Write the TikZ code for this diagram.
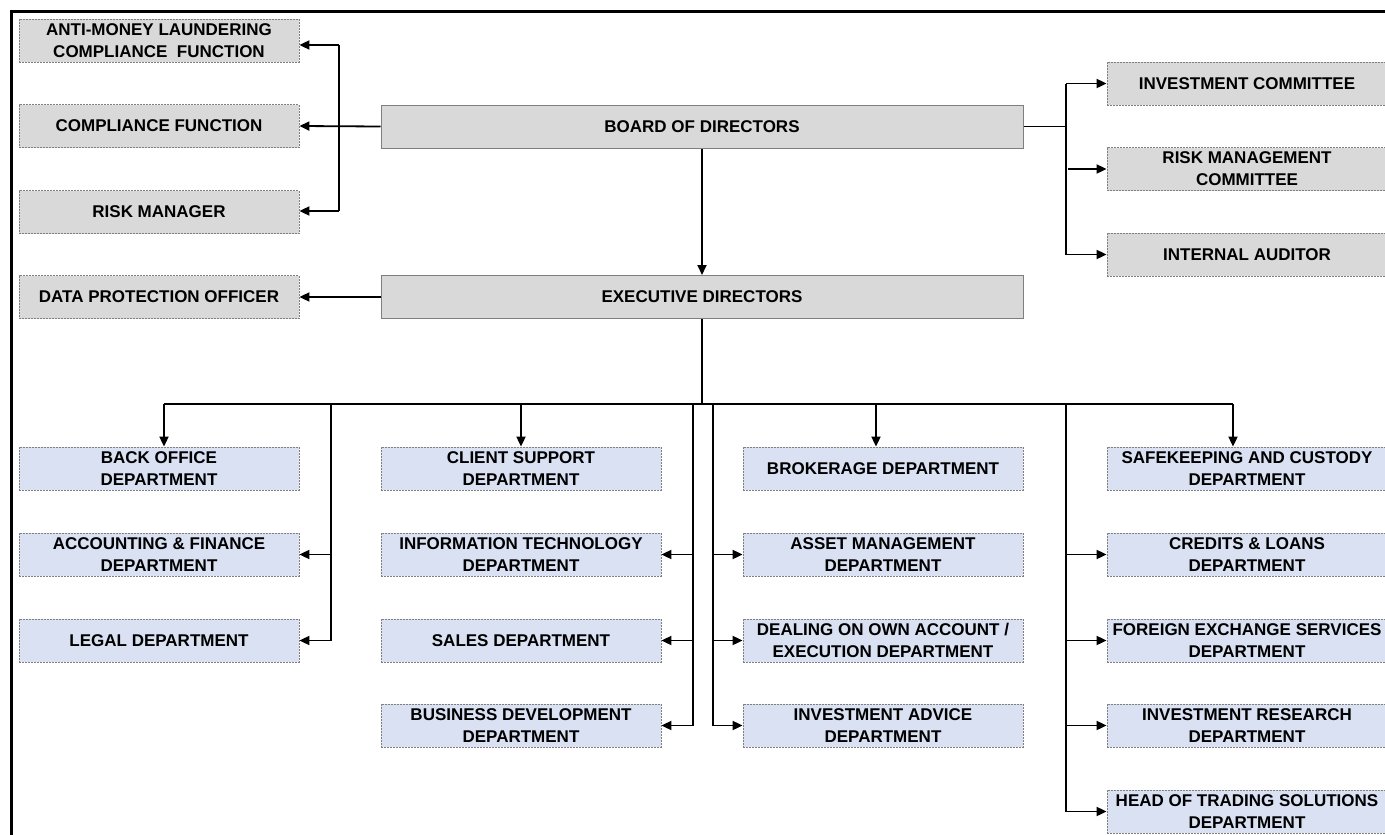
\documentclass[tikz,border=0pt]{standalone}
\usepackage{fontspec}
\setmainfont{Liberation Sans}
\usetikzlibrary{arrows.meta}
\definecolor{boxgray}{HTML}{D9D9D9}
\definecolor{boxblue}{HTML}{D9E1F2}
\definecolor{edgegray}{HTML}{7F7F7F}
\tikzset{
  base/.style={inner sep=0pt, align=center, font=\fontsize{17}{22}\selectfont\bfseries, text=black},
  graybox/.style={base, fill=boxgray, draw=edgegray, line width=0.8pt, dash pattern=on 2pt off 1pt, minimum width=280pt, minimum height=43pt},
  bigbox/.style={base, fill=boxgray, draw=edgegray, line width=1pt, minimum width=642pt, minimum height=43pt},
  deptbox/.style={base, fill=boxblue, draw=edgegray, line width=0.8pt, dash pattern=on 2pt off 1pt, minimum width=280pt, minimum height=43pt},
  conn/.style={draw=black, line width=1.8pt},
  arr/.style={conn, -{Triangle[length=10pt,width=9pt]}},
}
\begin{document}
\begin{tikzpicture}[x=1pt,y=-1pt]
\useasboundingbox (0,0) rectangle (1385,835);
\clip (0,0) rectangle (1385,835);
% frame
\draw[line width=2.4pt] (11.5,845) -- (11.5,11.5) -- (1400,11.5);

% top-left boxes
\node[graybox] (aml)  at (159,40.5) {ANTI-MONEY LAUNDERING\\COMPLIANCE\ \ FUNCTION};
\node[graybox] (comp) at (159,126)  {COMPLIANCE FUNCTION};
\node[graybox] (risk) at (159,212)  {RISK MANAGER};
\node[graybox] (dpo)  at (159,297)  {DATA PROTECTION OFFICER};
% main boxes
\node[bigbox] (board) at (702,126.5) {BOARD OF DIRECTORS};
\node[bigbox] (exec)  at (702,297)   {EXECUTIVE DIRECTORS};
% committees
\node[graybox] (invc)  at (1247,83.5)  {INVESTMENT COMMITTEE};
\node[graybox] (rmc)   at (1247,169)   {RISK MANAGEMENT\\COMMITTEE};
\node[graybox] (audit) at (1247,254.5) {INTERNAL AUDITOR};

% departments column 1
\node[deptbox] (back)  at (159,468.5) {BACK OFFICE\\DEPARTMENT};
\node[deptbox] (acct)  at (159,554.5) {ACCOUNTING \& FINANCE\\DEPARTMENT};
\node[deptbox] (legal) at (159,640.5) {LEGAL DEPARTMENT};
% column 2
\node[deptbox] (client) at (521,468.5) {CLIENT SUPPORT\\DEPARTMENT};
\node[deptbox] (it)     at (521,554.5) {INFORMATION TECHNOLOGY\\DEPARTMENT};
\node[deptbox] (sales)  at (521,640.5) {SALES DEPARTMENT};
\node[deptbox] (bizdev) at (521,725.5) {BUSINESS DEVELOPMENT\\DEPARTMENT};
% column 3
\node[deptbox] (broker) at (883,468.5) {BROKERAGE DEPARTMENT};
\node[deptbox] (asset)  at (883,554.5) {ASSET MANAGEMENT\\DEPARTMENT};
\node[deptbox] (deal)   at (883,640.5) {DEALING ON OWN ACCOUNT /\\EXECUTION DEPARTMENT};
\node[deptbox] (advice) at (883,725.5) {INVESTMENT ADVICE\\DEPARTMENT};
% column 4
\node[deptbox] (safe)   at (1247,468.5) {SAFEKEEPING AND CUSTODY\\DEPARTMENT};
\node[deptbox] (credit) at (1247,554.5) {CREDITS \& LOANS\\DEPARTMENT};
\node[deptbox] (fx)     at (1247,640.5) {FOREIGN EXCHANGE SERVICES\\DEPARTMENT};
\node[deptbox] (resch)  at (1247,725.5) {INVESTMENT RESEARCH\\DEPARTMENT};
\node[deptbox] (trade)  at (1247,811.5) {HEAD OF TRADING SOLUTIONS\\DEPARTMENT};

% board -> left
\coordinate (lvt) at (339,45);
\coordinate (lvb) at (339,211);
\draw[arr] (board.west) -- (comp.east);
\draw[conn] (lvt) -- (lvb);
\draw[arr] (lvt) -- (aml.east |- lvt);
\draw[arr] (lvb) -- (risk.east |- lvb);
% board -> right
\coordinate (rv) at (1066,126.5);
\coordinate (rvt) at (1066,83.5);
\coordinate (rvb) at (1066,254.5);
\coordinate (rvm) at (1068,169);
\draw[conn] (board.east) -- (rv);
\draw[conn] (rvt) -- (rvb);
\draw[arr] (rvt) -- (invc.west);
\draw[arr] (rvm) -- (rmc.west);
\draw[arr] (rvb) -- (audit.west);
% board -> exec, exec -> dpo
\draw[arr] (board.south) -- (exec.north);
\draw[arr] (exec.west) -- (dpo.east);

% bus
\coordinate (busL) at (164,404);
\coordinate (busR) at (1233,404);
\coordinate (bus1) at (331,404);
\coordinate (bus2) at (693,404);
\coordinate (bus3) at (713,404);
\coordinate (bus4) at (1066,404);
\coordinate (busC) at (521,404);
\coordinate (busB) at (876,404);
\draw[conn] (exec.south) -- (exec.south |- busL);
\draw[conn] (busL) -- (busR);
\draw[arr] (busL) -- (busL |- back.north);
\draw[arr] (busC) -- (busC |- client.north);
\draw[arr] (busB) -- (busB |- broker.north);
\draw[arr] (busR) -- (busR |- safe.north);
% column 1 branch
\draw[conn] (bus1) -- (bus1 |- legal.east);
\draw[arr] (bus1 |- acct.east) -- (acct.east);
\draw[arr] (bus1 |- legal.east) -- (legal.east);
% column 2 branch
\draw[conn] (bus2) -- (bus2 |- bizdev.east);
\draw[arr] (bus2 |- it.east) -- (it.east);
\draw[arr] (bus2 |- sales.east) -- (sales.east);
\draw[arr] (bus2 |- bizdev.east) -- (bizdev.east);
% column 3 branch
\draw[conn] (bus3) -- (bus3 |- advice.west);
\draw[arr] (bus3 |- asset.west) -- (asset.west);
\draw[arr] (bus3 |- deal.west) -- (deal.west);
\draw[arr] (bus3 |- advice.west) -- (advice.west);
% column 4 branch
\draw[conn] (bus4) -- (bus4 |- trade.west);
\draw[arr] (bus4 |- credit.west) -- (credit.west);
\draw[arr] (bus4 |- fx.west) -- (fx.west);
\draw[arr] (bus4 |- resch.west) -- (resch.west);
\draw[arr] (bus4 |- trade.west) -- (trade.west);
\end{tikzpicture}
\end{document}
